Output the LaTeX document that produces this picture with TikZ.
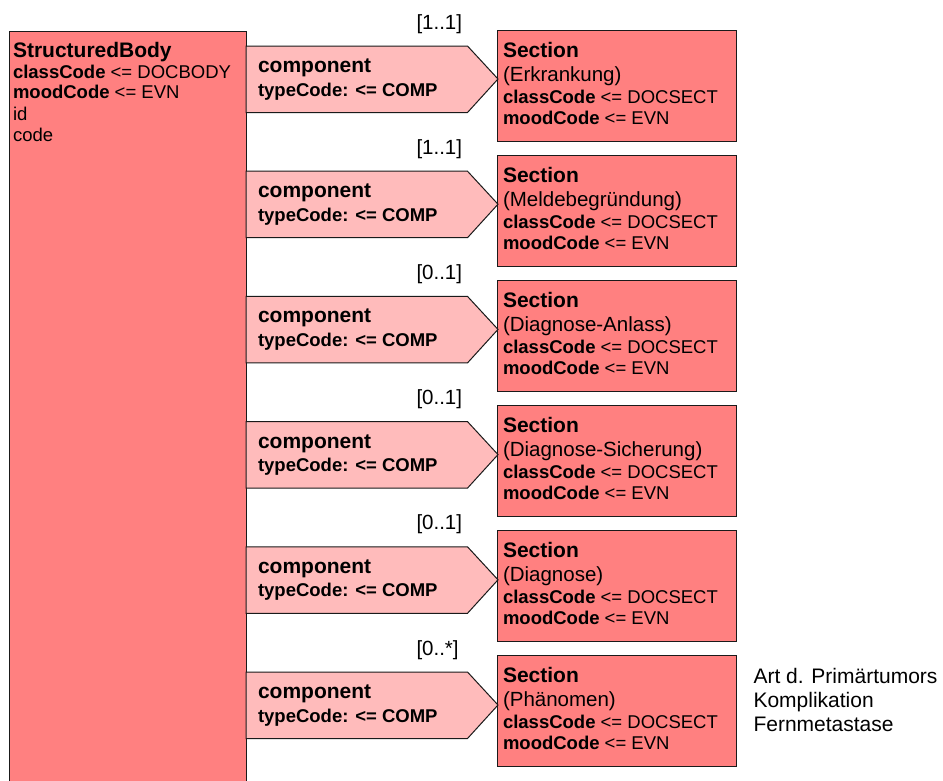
\documentclass[tikz,border=0pt]{standalone}
\usepackage{fontspec}
\setmainfont{Liberation Sans}
\definecolor{boxred}{HTML}{FF8080}
\definecolor{comppink}{HTML}{FFBBBB}
\definecolor{linec}{HTML}{1A1A1A}
\newcommand\fTitle{\fontsize{21}{25}\selectfont\bfseries}
\newcommand\fAttr{\fontsize{18.5}{22}\selectfont\mdseries}
\newcommand\fAttrB{\fontsize{18.5}{22}\selectfont\bfseries}
\newcommand\fComp{\fontsize{21}{25}\selectfont\bfseries}
\newcommand\fType{\fontsize{18.5}{22}\selectfont\bfseries}
\newcommand\fMult{\fontsize{20.5}{24}\selectfont\mdseries}
\newcommand\fParen{\fontsize{20.5}{24}\selectfont\mdseries}
\newcommand\fNote{\fontsize{21}{25}\selectfont\mdseries}
\begin{document}
\begin{tikzpicture}[x=1pt,y=-1pt,line width=1pt,
  bodybox/.style={draw=linec,fill=boxred,rectangle,inner sep=0pt,anchor=north west,minimum width=237.3pt,minimum height=780pt},
  secbox/.style={draw=linec,fill=boxred,rectangle,inner sep=0pt,anchor=north west,minimum width=239pt,minimum height=110.5pt},
  compshape/.style={draw=linec,fill=comppink,line join=miter},
  txt/.style={anchor=base west,inner sep=0pt,text=black}]
\clip (0,0) rectangle (943,780);
\node[bodybox] (body) at (8.7,30.7) {};
\node[txt] (btitle) at (12.5,57) {\fTitle StructuredBody};
\node[txt] (bclass) at (12.5,78) {{\fAttrB classCode}\fAttr{} <= DOCBODY};
\node[txt] (bmood) at (12.5,98.5) {{\fAttrB moodCode}\fAttr{} <= EVN};
\node[txt] (bid) at (12.5,120) {\fAttr id};
\node[txt] (bcode) at (12.5,141) {\fAttr code};
\foreach \i/\m/\p in {0/{[1..1]}/Erkrankung,1/{[1..1]}/Meldebegründung,2/{[0..1]}/Diagnose-Anlass,3/{[0..1]}/Diagnose-Sicherung,4/{[0..1]}/Diagnose,5/{[0..*]}/Phänomen}{
  \pgfmathsetmacro\st{30+125*\i}
  \pgfmathsetmacro\ct{46+125.2*\i}
  \node[secbox] (s\i) at (497,\st) {};
  \draw[compshape] (246,\ct) -- (467.5,\ct) -- (498,\ct+33) -- (467.5,\ct+66.5) -- (246,\ct+66.5) -- cycle;
  \node[txt] (c\i) at (257.5,\ct+26.5) {\fComp component};
  \node[txt] (t\i) at (257.5,\ct+50) {\fType typeCode: <= COMP};
  \node[txt] (m\i) at (416,\ct-17) {\fMult \m};
  \node[txt] (h\i) at (502.5,\st+27.5) {\fTitle Section};
  \node[txt] (p\i) at (502.5,\st+51) {\fParen (\p)};
  \node[txt] (k\i) at (502.5,\st+73) {{\fAttrB classCode}\fAttr{} <= DOCSECT};
  \node[txt] (o\i) at (502.5,\st+94.5) {{\fAttrB moodCode}\fAttr{} <= EVN};
}
\node[txt] (n1) at (753,683) {\fNote Art d. Primärtumors};
\node[txt] (n2) at (753,707) {\fNote Komplikation};
\node[txt] (n3) at (753,731) {\fNote Fernmetastase};
\end{tikzpicture}
\end{document}
